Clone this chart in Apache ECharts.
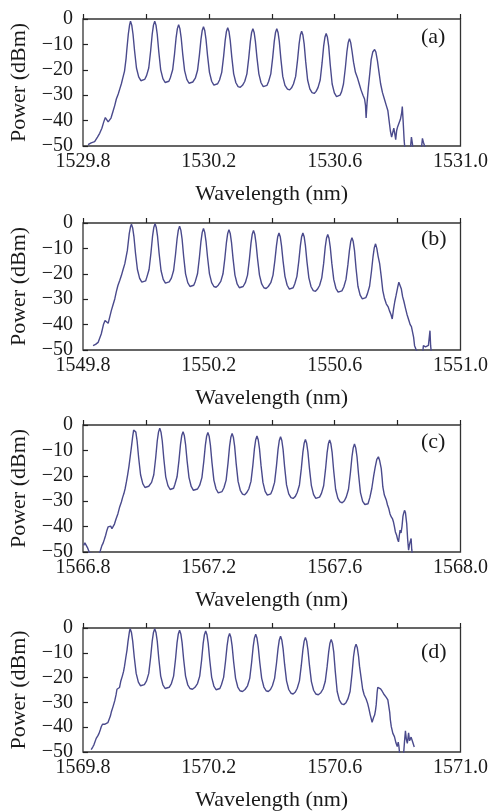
<!DOCTYPE html>
<html>
<head>
<meta charset="utf-8">
<script src="https://cdn.jsdelivr.net/npm/echarts@6/dist/echarts.min.js"></script>
<style>
html,body{margin:0;padding:0;background:#fff;}
#c{width:491px;height:812px;}
</style>
</head>
<body>
<div id="c"></div>
<script>
// Panel labels and axis ranges
const panelLabels = ['(a)', '(b)', '(c)', '(d)'];
const xMins = [1529.8, 1549.8, 1566.8, 1569.8];
const xMaxs = [1531.0, 1551.0, 1568.0, 1571.0];
const yTicks = [-50, -40, -30, -20, -10, 0];

// (a) wavelength (nm) and power (dBm)
const wlA = [1529.816,1529.826,1529.837,1529.846,1529.853,1529.860,1529.866,1529.871,1529.876,1529.880,1529.885,1529.889,1529.895,1529.901,1529.906,1529.912,1529.917,1529.922,1529.927,1529.932,1529.937,1529.939,1529.944,1529.948,1529.951,
1529.955,1529.959,1529.964,1529.970,1529.977,1529.984,1529.990,1529.996,1530.002,1530.009,1530.015,1530.020,1530.024,1530.028,
1530.032,1530.036,1530.041,1530.047,1530.054,1530.061,1530.067,1530.073,1530.078,1530.085,1530.091,1530.096,1530.100,1530.104,
1530.108,1530.112,1530.117,1530.123,1530.130,1530.137,1530.143,1530.149,1530.157,1530.164,1530.170,1530.175,1530.179,1530.183,
1530.187,1530.191,1530.196,1530.202,1530.209,1530.216,1530.222,1530.228,1530.234,1530.241,1530.247,1530.252,1530.256,1530.260,
1530.264,1530.268,1530.273,1530.279,1530.286,1530.293,1530.300,1530.307,1530.314,1530.321,1530.327,1530.332,1530.336,1530.340,
1530.344,1530.348,1530.353,1530.359,1530.366,1530.373,1530.379,1530.385,1530.390,1530.397,1530.403,1530.408,1530.412,1530.416,
1530.420,1530.424,1530.429,1530.435,1530.442,1530.450,1530.457,1530.463,1530.469,1530.476,1530.482,1530.487,1530.491,1530.495,
1530.499,1530.503,1530.508,1530.514,1530.521,1530.528,1530.535,1530.541,1530.547,1530.554,1530.560,1530.565,1530.569,1530.573,
1530.577,1530.581,1530.586,1530.592,1530.599,1530.606,1530.612,1530.617,1530.622,1530.628,1530.634,1530.639,1530.643,1530.647,
1530.651,1530.655,1530.660,1530.666,1530.672,1530.678,1530.684,1530.690,1530.695,1530.698,1530.700,1530.703,1530.707,1530.712,1530.716,1530.721,1530.727,
1530.731,1530.736,1530.741,1530.746,1530.752,1530.758,1530.764,1530.769,1530.773,1530.777,1530.781,1530.785,1530.788,1530.791,1530.794,1530.797,1530.800,1530.805,1530.809,1530.813,1530.815,1530.818,1530.821,1530.824,1530.840,1530.844,1530.847,1530.850,1530.875,1530.879,1530.882,1530.886,1530.890];
const pwA = [-49.5,-48.8,-48.3,-46.5,-45,-43,-40.5,-38.8,-38.8,-40.5,-41,-39,-36.5,-34,-31.5,-29.5,-27.5,-25.5,-23,-20.5,-15.5,-12.5,-6,-2.4,-0.9,
-2.4,-6,-12.6,-19.3,-22.8,-24.3,-24.5,-23.8,-22.3,-19.3,-12.6,-6,-2.4,-0.9,
-2.4,-6,-13,-20,-23.5,-25,-25.3,-24.5,-23,-20,-13.7,-7.3,-3.8,-2.3,
-3.8,-7.3,-13.8,-20.3,-23.8,-25.3,-25.6,-24.8,-23.3,-20.3,-14.2,-8,-4.5,-3,
-4.5,-8,-14.5,-21,-24.5,-26,-26.3,-25.5,-24,-21,-14.7,-8.4,-4.9,-3.4,
-4.9,-8.4,-15,-21.6,-25.1,-26.6,-26.9,-26.1,-24.6,-21.6,-15.2,-8.8,-5.3,-3.8,
-5.3,-8.8,-15.2,-21.6,-25.1,-26.6,-26.9,-26.1,-24.6,-21.6,-15.2,-8.8,-5.3,-3.8,
-5.3,-8.8,-15.7,-22.6,-26.1,-27.6,-27.9,-27.1,-25.6,-22.6,-16.2,-9.8,-6.3,-4.8,
-6.3,-9.8,-16.9,-24,-27.5,-29,-29.3,-28.5,-27,-24,-17.3,-10.7,-7.2,-5.7,
-7.2,-10.7,-18.1,-25.6,-29.1,-30.6,-30.9,-30,-28.6,-25.6,-19.2,-12.8,-9.3,-7.8,
-9.3,-12.5,-17,-21,-23,-25.5,-28,-30,-31.5,-34,-39,-33,-27,-21,-16,-13,-12,
-13,-16.5,-21,-25.5,-29,-31.5,-34,-36,-40,-44,-46.5,-46.5,-43,-45,-47.5,-44,-42.5,-43,-39.5,-37,-34.5,-41,-48,-52,-52,-46.5,-49,-52,-52,-47,-48.5,-50,-52];

// (b)
const wlB = [1549.832,1549.840,1549.848,1549.858,1549.865,1549.870,1549.876,1549.880,1549.884,1549.890,1549.896,1549.901,1549.906,1549.911,1549.917,1549.922,1549.927,1549.933,1549.941,1549.947,1549.951,1549.954,
1549.958,1549.962,1549.967,1549.973,1549.980,1549.987,1549.993,1549.999,1550.003,1550.010,1550.016,1550.021,1550.025,1550.029,
1550.033,1550.037,1550.042,1550.048,1550.055,1550.062,1550.068,1550.074,1550.081,1550.088,1550.094,1550.099,1550.103,1550.107,
1550.111,1550.115,1550.120,1550.126,1550.133,1550.140,1550.146,1550.152,1550.157,1550.164,1550.170,1550.175,1550.179,1550.183,
1550.187,1550.191,1550.196,1550.202,1550.209,1550.216,1550.223,1550.230,1550.238,1550.245,1550.251,1550.256,1550.260,1550.264,
1550.268,1550.272,1550.277,1550.283,1550.290,1550.297,1550.303,1550.309,1550.316,1550.323,1550.329,1550.334,1550.338,1550.342,
1550.346,1550.350,1550.355,1550.361,1550.368,1550.375,1550.382,1550.389,1550.397,1550.404,1550.410,1550.415,1550.419,1550.423,
1550.427,1550.431,1550.436,1550.442,1550.449,1550.456,1550.462,1550.468,1550.473,1550.480,1550.486,1550.491,1550.495,1550.499,
1550.503,1550.507,1550.512,1550.518,1550.525,1550.532,1550.539,1550.545,1550.552,1550.559,1550.565,1550.570,1550.574,1550.578,
1550.582,1550.586,1550.591,1550.597,1550.604,1550.611,1550.617,1550.623,1550.629,1550.636,1550.642,1550.647,1550.651,1550.655,
1550.659,1550.663,1550.668,1550.674,1550.681,1550.688,1550.694,1550.699,1550.704,1550.711,1550.717,1550.722,1550.726,1550.730,
1550.734,1550.738,1550.743,1550.748,1550.753,1550.758,1550.764,1550.770,1550.774,1550.779,1550.783,1550.787,1550.791,1550.795,1550.800,1550.804,1550.808,1550.812,1550.816,1550.820,1550.825,1550.830,1550.836,1550.840,1550.844,1550.848,1550.851,1550.854,1550.858,1550.861,1550.880,1550.882,1550.886,1550.889,1550.893,1550.898,1550.901,1550.903,1550.905,1550.907];
const pwB = [-48.3,-47.8,-47,-43.7,-40,-38.4,-38.2,-39.5,-39.7,-34.5,-32,-29.9,-27,-24.6,-22.5,-20.7,-18.5,-16,-10.8,-4.2,-1.5,-0.5,
-2,-5.5,-12,-18.3,-21.8,-23.3,-23.6,-22.8,-21.3,-18.3,-11.8,-5.3,-1.8,-0.3,
-1.8,-5.3,-12,-18.7,-22.2,-23.7,-24,-23.2,-21.7,-18.7,-12.5,-6.3,-2.8,-1.3,
-2.8,-6.3,-13.2,-20,-23.5,-25,-25.3,-24.5,-23,-20,-13.6,-7.2,-3.7,-2.2,
-3.7,-7.2,-13.6,-20,-23.5,-25,-25.3,-24.5,-23,-20,-13.8,-7.6,-4.1,-2.6,
-4.1,-7.6,-14,-20.5,-24,-25.5,-25.8,-25,-23.5,-20.5,-14.2,-7.9,-4.4,-2.9,
-4.4,-7.9,-14.2,-20.5,-24,-25.5,-25.8,-25,-23.5,-20.5,-14.7,-8.9,-5.4,-3.9,
-5.4,-8.9,-15,-21,-24.5,-26,-26.3,-25.5,-24,-21,-15,-8.9,-5.4,-3.9,
-5.4,-8.9,-15.3,-21.6,-25.1,-26.6,-26.9,-26.1,-24.6,-21.6,-15.9,-9.5,-6,-4.5,
-6,-9.5,-15.9,-22.2,-25.7,-27.2,-27.5,-26.7,-25.2,-22.2,-16.5,-10.8,-7.3,-5.8,
-7.3,-10.8,-17.9,-24.9,-28.4,-29.9,-30.2,-29.4,-27.9,-24.9,-19,-13.2,-9.7,-8.2,
-10,-13,-16,-21,-26.6,-29.5,-31.8,-33,-34.5,-36,-37.8,-34,-31,-28.6,-25.5,-23.3,-23.5,-26,-29,-30.8,-33.5,-36,-38.4,-40,-40.8,-41.3,-45,-48.3,-48,-50.5,-51,-48.3,-47.8,-48.8,-49,-48.2,-47.6,-42.4,-48.3,-50.5];

// (c)
const wlC = [1566.802,1566.806,1566.810,1566.815,1566.821,1566.850,1566.855,1566.860,1566.864,1566.868,1566.872,1566.876,1566.880,1566.884,1566.888,1566.892,1566.896,1566.900,1566.905,1566.911,1566.916,1566.922,1566.926,1566.930,1566.934,1566.938,1566.942,1566.946,1566.950,1566.954,1566.958,1566.961,1566.964,
1566.968,1566.972,1566.977,1566.983,1566.990,1566.997,1567.003,1567.009,1567.018,1567.025,1567.031,1567.036,1567.040,1567.044,
1567.048,1567.052,1567.057,1567.063,1567.070,1567.077,1567.083,1567.088,1567.092,1567.099,1567.105,1567.110,1567.114,1567.118,
1567.122,1567.126,1567.131,1567.137,1567.144,1567.151,1567.157,1567.164,1567.171,1567.178,1567.184,1567.189,1567.193,1567.197,
1567.201,1567.205,1567.210,1567.216,1567.223,1567.230,1567.236,1567.242,1567.248,1567.255,1567.261,1567.266,1567.270,1567.274,
1567.278,1567.282,1567.287,1567.293,1567.300,1567.307,1567.314,1567.320,1567.327,1567.334,1567.340,1567.345,1567.349,1567.353,
1567.357,1567.361,1567.366,1567.372,1567.379,1567.386,1567.392,1567.397,1567.402,1567.409,1567.415,1567.420,1567.424,1567.428,
1567.432,1567.436,1567.441,1567.447,1567.454,1567.461,1567.468,1567.475,1567.481,1567.488,1567.494,1567.499,1567.503,1567.507,
1567.511,1567.515,1567.520,1567.526,1567.533,1567.540,1567.546,1567.552,1567.558,1567.565,1567.571,1567.576,1567.580,1567.584,
1567.588,1567.592,1567.597,1567.603,1567.610,1567.617,1567.624,1567.631,1567.637,1567.644,1567.650,1567.655,1567.659,1567.663,
1567.667,1567.671,1567.676,1567.682,1567.689,1567.696,1567.701,1567.706,1567.712,1567.718,1567.724,1567.729,1567.734,1567.739,
1567.743,1567.748,1567.751,1567.753,1567.758,1567.764,1567.768,1567.772,1567.776,1567.780,1567.784,1567.787,1567.790,1567.793,1567.797,1567.800,1567.803,1567.806,1567.808,1567.811,1567.814,1567.817,1567.819,1567.822,1567.825,1567.829,1567.832,1567.835,1567.838,1567.840,1567.843,1567.845,1567.847];
const pwC = [-47.4,-46.4,-46.6,-48.5,-50.4,-51,-49.5,-47.5,-46.5,-45,-43.4,-41.5,-40.1,-39.5,-39.8,-40.8,-40.8,-39,-37,-34.9,-32.5,-30.3,-28.5,-27,-25,-22.4,-19.5,-16.4,-12.5,-8.6,-4.5,-2,-1.3,
-2.8,-6.3,-13,-19.6,-23.1,-24.6,-24.9,-24.1,-22.6,-19.6,-13,-6.3,-2.8,-1.3,
-2.8,-6.3,-13.4,-20.4,-23.9,-25.4,-25.7,-24.9,-23.4,-20.4,-14,-7.6,-4.1,-2.6,
-4.1,-7.6,-14.2,-20.7,-24.2,-25.7,-26,-25.2,-23.7,-20.7,-14.3,-7.9,-4.4,-2.9,
-4.4,-7.9,-14.8,-21.7,-25.2,-26.7,-27,-26.2,-24.7,-21.7,-15,-8.3,-4.8,-3.3,
-4.8,-8.3,-15.3,-22.2,-25.7,-27.2,-27.5,-26.7,-25.2,-22.2,-15.8,-9.3,-5.8,-4.3,
-5.8,-9.3,-16,-22.6,-26.1,-27.6,-27.9,-27.1,-25.6,-22.6,-16.1,-9.6,-6.1,-4.6,
-6.1,-9.6,-16.6,-23.6,-27.1,-28.6,-28.9,-28.1,-26.6,-23.6,-17.2,-10.7,-7.2,-5.7,
-7.2,-10.7,-17.3,-23.9,-27.4,-28.9,-29.2,-28.4,-26.9,-23.9,-17.4,-10.9,-7.4,-5.9,
-7.4,-10.9,-18.1,-25.3,-28.8,-30.3,-30.6,-29.8,-28.3,-25.3,-18.9,-12.5,-9,-7.5,
-9,-12.5,-19.5,-26.6,-30.1,-31.3,-31.8,-31,-28.5,-25,-20,-16.5,-13.5,-12.5,
-14,-17.1,-21,-24.3,-27.6,-29.5,-31.5,-32.9,-35,-36.2,-37,-38.2,-40,-42.1,-43.4,-45,-46,-43,-41.4,-42.5,-40,-36,-34.9,-33.6,-34.5,-38.8,-45,-49.3,-47,-46,-44.7,-49,-51];

// (d)
const wlD = [1569.826,1569.831,1569.835,1569.842,1569.847,1569.851,1569.855,1569.858,1569.862,1569.866,1569.870,1569.874,1569.879,1569.883,1569.887,1569.890,1569.896,1569.901,1569.905,1569.908,1569.912,1569.916,1569.920,1569.925,1569.929,1569.932,1569.936,1569.940,1569.943,1569.946,1569.948,1569.950,
1569.954,1569.958,1569.963,1569.969,1569.976,1569.983,1569.989,1569.995,1570.002,1570.009,1570.015,1570.020,1570.024,1570.028,
1570.032,1570.036,1570.041,1570.047,1570.054,1570.061,1570.067,1570.074,1570.081,1570.088,1570.094,1570.099,1570.103,1570.107,
1570.111,1570.115,1570.120,1570.126,1570.133,1570.140,1570.148,1570.156,1570.164,1570.171,1570.177,1570.182,1570.186,1570.190,
1570.194,1570.198,1570.203,1570.209,1570.216,1570.223,1570.229,1570.235,1570.240,1570.247,1570.253,1570.258,1570.262,1570.266,
1570.270,1570.274,1570.279,1570.285,1570.292,1570.299,1570.307,1570.315,1570.323,1570.330,1570.336,1570.341,1570.345,1570.349,
1570.353,1570.357,1570.362,1570.368,1570.375,1570.382,1570.389,1570.396,1570.402,1570.409,1570.415,1570.420,1570.424,1570.428,
1570.432,1570.436,1570.441,1570.447,1570.454,1570.461,1570.468,1570.475,1570.481,1570.488,1570.494,1570.499,1570.503,1570.507,
1570.511,1570.515,1570.520,1570.526,1570.533,1570.540,1570.548,1570.556,1570.563,1570.570,1570.576,1570.581,1570.585,1570.589,
1570.593,1570.597,1570.602,1570.608,1570.615,1570.622,1570.629,1570.636,1570.642,1570.649,1570.655,1570.660,1570.664,1570.668,
1570.672,1570.676,1570.679,1570.684,1570.689,1570.694,1570.700,1570.705,1570.709,1570.713,1570.716,1570.719,1570.721,1570.724,1570.727,1570.730,1570.732,1570.735,1570.737,1570.741,1570.746,1570.751,1570.756,1570.760,1570.764,1570.769,1570.773,1570.775,1570.777,1570.780,1570.785,1570.790,1570.795,1570.799,1570.802,1570.804,1570.806,1570.808,1570.819,1570.822,1570.825,1570.828,1570.831,1570.835,1570.838,1570.840,1570.843,1570.845,1570.848,1570.851,1570.853];
const pwD = [-49,-48,-47,-44.5,-43.5,-42.5,-41,-39.8,-38.8,-38.5,-38.8,-38.6,-38.2,-37.9,-35.5,-33.9,-31.5,-29.3,-27,-24.7,-24.2,-24,-21.5,-19.4,-17.5,-15.4,-12,-8.8,-5.5,-2.9,-1.2,-0.3,
-1.8,-5.3,-11.8,-18.3,-21.8,-23.3,-23.6,-22.8,-21.3,-18.3,-11.8,-5.3,-1.8,-0.3,
-1.8,-5.3,-12.4,-19.4,-22.9,-24.4,-24.7,-23.9,-22.4,-19.4,-12.7,-5.9,-2.4,-0.9,
-2.4,-5.9,-12.7,-19.4,-22.9,-24.4,-24.7,-23.9,-22.4,-19.4,-13,-6.2,-2.7,-1.2,
-2.7,-6.2,-13,-19.9,-23.4,-24.9,-25.2,-24.4,-22.9,-19.9,-13.5,-7.2,-3.7,-2.2,
-3.7,-7.2,-13.8,-20.3,-23.8,-25.3,-25.6,-24.8,-23.3,-20.3,-13.9,-7.5,-4,-2.5,
-4,-7.5,-13.9,-20.3,-23.8,-25.3,-25.6,-24.8,-23.3,-20.3,-14.3,-8.3,-4.8,-3.3,
-4.8,-8.3,-14.8,-21.3,-24.8,-26.3,-26.6,-25.8,-24.3,-21.3,-15,-8.8,-5.3,-3.8,
-5.3,-8.8,-15.2,-21.6,-25.1,-26.6,-26.9,-26.1,-24.6,-21.6,-15.6,-9.6,-6.1,-4.6,
-6.1,-9.6,-17.6,-25.6,-29.1,-30.6,-30.9,-30.1,-28.6,-25.6,-18.6,-11.5,-8,-6.5,
-8,-11.5,-15.4,-20,-24.7,-27,-28.6,-30.5,-32.6,-35,-36.5,-38,-38.5,-36,-35.1,-33,-31,-26,-23.9,-23.1,-24.5,-25.5,-26.6,-27,-28,-29,-29.5,-34,-37,-39.8,-42.5,-43.8,-46.4,-47.8,-46,-47.5,-50,-51,-51,-45.8,-41.5,-45,-46.5,-42.3,-45.5,-46,-44,-43.5,-46,-46,-48];

const wls = [wlA, wlB, wlC, wlD];
const pws = [pwA, pwB, pwC, pwD];

const FONT = '"Liberation Serif", "Times New Roman", serif';
const gridTops = [19, 223, 425, 628];
const labelTops = [38, 240, 443, 653];
const LEFT = 83, WIDTH = 378, HEIGHT = 127;
const lineColor = '#4a4a8c';

const chart = echarts.init(document.getElementById('c'), null, {renderer: 'canvas'});

const grid = [], xAxis = [], yAxis = [], series = [], graphic = [];
for (let i = 0; i < 4; i++) {
  grid.push({left: LEFT, top: gridTops[i], width: WIDTH, height: HEIGHT,
    show: true, borderColor: '#333', borderWidth: 1.3, backgroundColor: 'transparent', containLabel: false});
  const mn = xMins[i];
  xAxis.push({
    type: 'value', gridIndex: i, min: mn, max: xMaxs[i], interval: 0.2,
    name: 'Wavelength (nm)', nameLocation: 'middle', nameGap: 37,
    nameTextStyle: {fontFamily: FONT, fontSize: 22, color: '#1a1a1a'},
    axisLine: {show: false},
    axisTick: {show: true, inside: true, length: 5, lineStyle: {color: '#222', width: 1.2}},
    splitLine: {show: false},
    axisLabel: {
      fontFamily: FONT, fontSize: 20, color: '#1a1a1a', margin: 6,
      formatter: function (v) {
        const k = Math.round((v - mn) / 0.2);
        return k % 2 === 0 ? v.toFixed(1) : '';
      }
    }
  });
  yAxis.push({
    type: 'value', gridIndex: i, min: yTicks[0], max: yTicks[yTicks.length - 1], interval: 10,
    name: 'Power (dBm)', nameLocation: 'middle', nameGap: 53,
    nameTextStyle: {fontFamily: FONT, fontSize: 22, color: '#1a1a1a'},
    axisLine: {show: false},
    axisTick: {show: true, inside: true, length: 5, lineStyle: {color: '#222', width: 1.2}},
    splitLine: {show: false},
    axisLabel: {
      fontFamily: FONT, fontSize: 20, color: '#1a1a1a', margin: 10,
      formatter: function (v) { return v < 0 ? '\u2212' + Math.abs(v) : String(v); }
    }
  });
  series.push({
    type: 'line', xAxisIndex: i, yAxisIndex: i, showSymbol: false, symbol: 'none',
    clip: true, animation: false,
    lineStyle: {color: lineColor, width: 1.4},
    data: wls[i].map((w, j) => [w, pws[i][j]])
  });
  graphic.push({
    type: 'text', left: 434 - 13, top: labelTops[i] - 12,
    style: {text: panelLabels[i], font: '22px ' + FONT, fill: '#1a1a1a'}
  });
}

chart.setOption({
  backgroundColor: '#ffffff',
  animation: false,
  grid, xAxis, yAxis, series, graphic
});
</script>
</body>
</html>
